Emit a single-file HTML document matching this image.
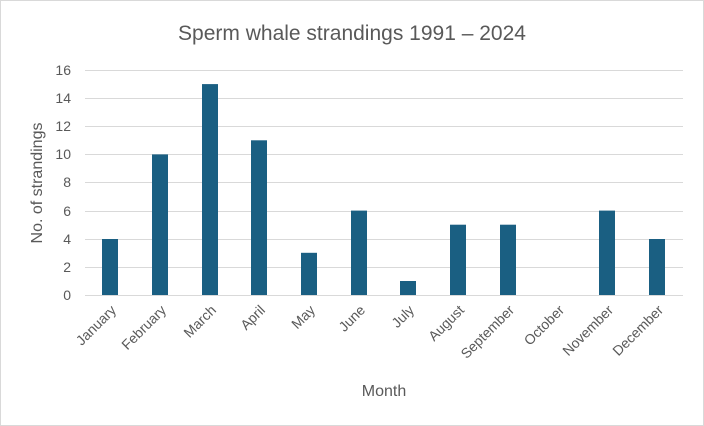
<!DOCTYPE html>
<html><head><style>
body{margin:0;background:#fff}
svg{display:block}
text{font-family:"Liberation Sans",sans-serif;fill:#595959}
</style></head><body>
<svg width="704" height="426" viewBox="0 0 704 426">
<rect x="0.5" y="0.5" width="703" height="425" fill="#fff" stroke="#d9d9d9"/>
<text x="352" y="40" font-size="21" text-anchor="middle">Sperm whale strandings 1991 – 2024</text>
<g stroke="#d9d9d9" stroke-width="1">
<line x1="85" x2="683" y1="70.5" y2="70.5"/><line x1="85" x2="683" y1="98.5" y2="98.5"/>
<line x1="85" x2="683" y1="126.5" y2="126.5"/><line x1="85" x2="683" y1="154.5" y2="154.5"/>
<line x1="85" x2="683" y1="182.5" y2="182.5"/><line x1="85" x2="683" y1="211.5" y2="211.5"/>
<line x1="85" x2="683" y1="239.5" y2="239.5"/><line x1="85" x2="683" y1="267.5" y2="267.5"/>
<line x1="85" x2="683" y1="295.5" y2="295.5"/>
</g>
<g font-size="14" text-anchor="end">
<text x="71" y="75">16</text><text x="71" y="103">14</text><text x="71" y="131">12</text>
<text x="71" y="159">10</text><text x="71" y="187">8</text><text x="71" y="216">6</text>
<text x="71" y="244">4</text><text x="71" y="272">2</text><text x="71" y="300">0</text>
</g>
<text transform="translate(42,183) rotate(-90)" font-size="16" text-anchor="middle">No. of strandings</text>
<g fill="#1a5f82">
<rect x="102" y="239" width="16" height="56"/>
<rect x="152" y="154.4" width="16" height="140.6"/>
<rect x="202" y="84.1" width="16" height="210.9"/>
<rect x="251" y="140.3" width="16" height="154.7"/>
<rect x="301" y="252.8" width="16" height="42.2"/>
<rect x="351" y="210.6" width="16" height="84.4"/>
<rect x="400" y="281" width="16" height="14"/>
<rect x="450" y="224.7" width="16" height="70.3"/>
<rect x="500" y="224.7" width="16" height="70.3"/>
<rect x="599" y="210.6" width="16" height="84.4"/>
<rect x="649" y="239" width="16" height="56"/>
</g>
<g font-size="14" text-anchor="end">
<text transform="translate(117,311) rotate(-45)">January</text>
<text transform="translate(167,311) rotate(-45)">February</text>
<text transform="translate(217,311) rotate(-45)">March</text>
<text transform="translate(266,311) rotate(-45)">April</text>
<text transform="translate(316,311) rotate(-45)">May</text>
<text transform="translate(366,311) rotate(-45)">June</text>
<text transform="translate(415,311) rotate(-45)">July</text>
<text transform="translate(465,311) rotate(-45)">August</text>
<text transform="translate(515,311) rotate(-45)">September</text>
<text transform="translate(565,311) rotate(-45)">October</text>
<text transform="translate(614,311) rotate(-45)">November</text>
<text transform="translate(664,311) rotate(-45)">December</text>
</g>
<text x="384" y="396" font-size="16" text-anchor="middle">Month</text>
</svg>
</body></html>
